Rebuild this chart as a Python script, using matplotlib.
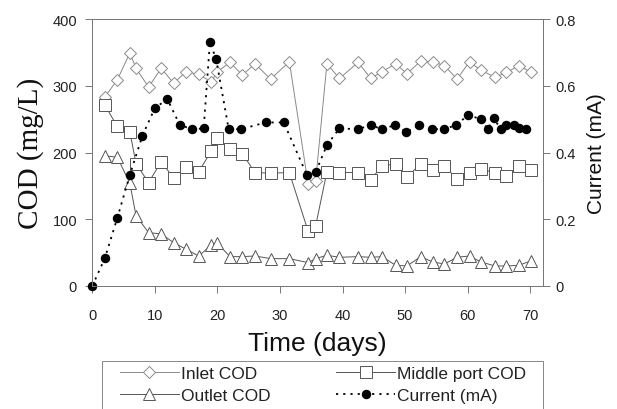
import matplotlib
matplotlib.use('Agg')
import matplotlib.pyplot as plt
from matplotlib.patches import Rectangle

# sampling days for the COD measurements
days_cod = [2, 4, 6, 7, 9, 11, 13, 15, 17, 19, 20, 22, 24, 26, 28.5, 31.5,
            34.5, 35.7, 37.5, 39.5, 42.5, 44.5, 46.3, 48.5, 50.3, 52.5, 54.4,
            56.3, 58.3, 60.3, 62.1, 64.4, 66.2, 68.2, 70.2]
inlet_cod = [283, 309, 349, 326, 298, 326, 304, 321, 317, 306, 321, 335, 316,
             333, 310, 336, 153, 157, 333, 311, 335, 311, 321, 333, 318, 337,
             336, 330, 310, 336, 323, 313, 320, 330, 320]
middle_cod = [271, 239, 231, 183, 155, 186, 162, 178, 171, 202, 221, 205, 198,
              170, 169, 170, 82, 90, 171, 170, 170, 159, 180, 183, 163, 183,
              174, 180, 160, 169, 176, 169, 165, 180, 174]
outlet_cod = [195, 193, 154, 105, 80, 78, 65, 55, 45, 61, 64, 44, 44, 45, 41,
              41, 35, 41, 46, 43, 44, 43, 44, 31, 30, 44, 36, 33, 43, 45, 36,
              30, 30, 31, 38]

days_cur = [0, 2, 4, 6, 8, 10, 12, 14, 16, 17.8, 18.8, 19.8, 21.8, 23.8, 27.7,
            30.6, 34.3, 35.7, 37.5, 39.5, 42.5, 44.5, 46.3, 48.4, 50.2, 52.3,
            54.3, 56.3, 58.1, 60.1, 62.1, 63.2, 64.2, 65.3, 66.1, 67.4, 68.2,
            69.3]
current = [0, 0.083, 0.204, 0.333, 0.45, 0.533, 0.56, 0.482, 0.47, 0.472,
           0.73, 0.68, 0.47, 0.47, 0.49, 0.49, 0.333, 0.341, 0.422, 0.472,
           0.47, 0.482, 0.47, 0.482, 0.462, 0.482, 0.47, 0.47, 0.482, 0.512,
           0.5, 0.47, 0.502, 0.47, 0.482, 0.482, 0.472, 0.47]

plt.rcParams['font.family'] = ['Liberation Sans', 'DejaVu Sans']

fig = plt.figure(figsize=(6.17, 4.10), dpi=100)
ax = fig.add_axes([0.1496, 0.30, 0.73, 0.6512])
ax2 = ax.twinx()

l1, = ax.plot(days_cod, inlet_cod, color='#8a8a8a', lw=0.7, marker='D',
              ms=6.5, mfc='white', mec='#8a8a8a', mew=0.7, label='Inlet COD')
l2, = ax.plot(days_cod, middle_cod, color='#555555', lw=0.7, marker='s',
              ms=8, mfc='white', mec='#555555', mew=0.7,
              label='Middle port COD')
l3, = ax.plot(days_cod, outlet_cod, color='#555555', lw=0.7, marker='^',
              ms=8.5, mfc='white', mec='#555555', mew=0.7, label='Outlet COD')
l4, = ax2.plot(days_cur, current, color='black', lw=1.3,
               linestyle=(0, (1.2, 2.8)), marker='o', ms=5.8,
               mfc='black', mec='black', label='Current (mA)', clip_on=False)

ax.set_xlim(0, 72)
ax.set_ylim(0, 400)
ax2.set_ylim(0, 0.8)
ax.set_xticks(range(0, 80, 10))
ax.set_yticks(range(0, 500, 100))
ax2.set_yticks([0, 0.2, 0.4, 0.6, 0.8])
ax2.set_yticklabels(['0', '0.2', '0.4', '0.6', '0.8'])

for a in (ax, ax2):
    for s in a.spines.values():
        s.set_color('#777777')
        s.set_linewidth(0.7)
    a.tick_params(colors='#777777', labelcolor='#222222', labelsize=10.5,
                  width=0.7, length=5)
ax.tick_params(axis='x', pad=11)
ax.tick_params(axis='y', pad=6)
ax2.tick_params(axis='y', pad=4)

ax.set_xlabel('Time (days)', fontsize=19, labelpad=6, color='#111111')
ax.set_ylabel('COD (mg/L)', fontsize=21, family=['Liberation Serif'],
              labelpad=6, color='#111111')
ax2.set_ylabel('Current (mA)', fontsize=15, labelpad=8, color='#111111')

# two rows: Inlet / Middle port on top, Outlet / Current below
leg = fig.legend(handles=[l1, l3, l2, l4], ncol=2, loc='upper left',
                 bbox_to_anchor=(0.186, 0.117), borderaxespad=0,
                 fontsize=12.5, handlelength=3.4, handletextpad=0.1,
                 columnspacing=3.8, borderpad=0.3, labelspacing=0.4,
                 frameon=False)
for t in leg.get_texts():
    t.set_color('#222222')

# legend box, running off the bottom of the figure
fig.patches.append(Rectangle((102 / 617, -0.05), 441 / 617, 0.05 + 48 / 410,
                             transform=fig.transFigure, fill=False,
                             edgecolor='#888888', lw=0.7))

fig.savefig('out.png', dpi=100)
